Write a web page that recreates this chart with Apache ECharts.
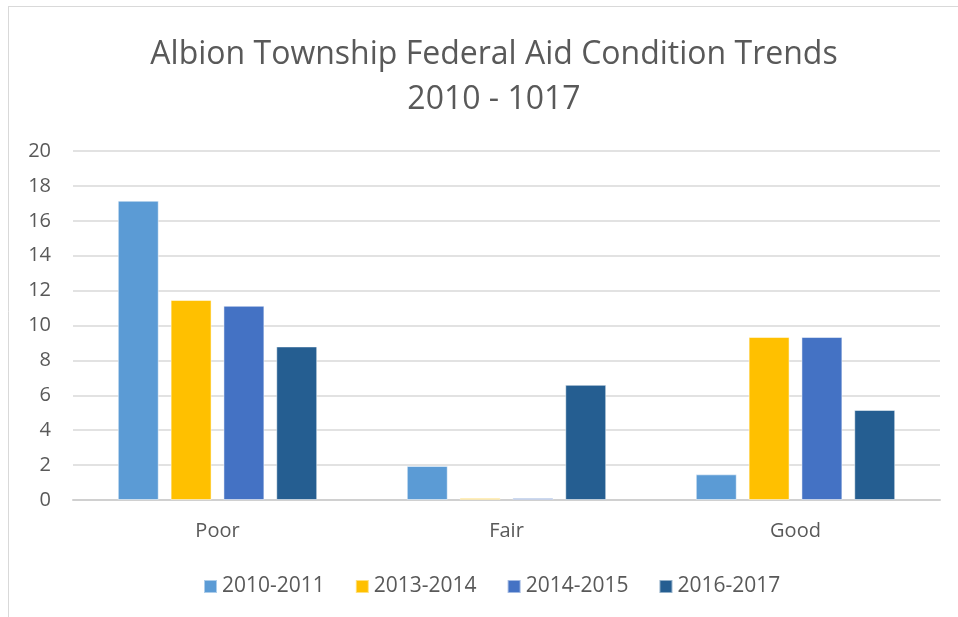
<!DOCTYPE html>
<html>
<head>
<meta charset="utf-8">
<script src="https://cdn.jsdelivr.net/npm/echarts@6/dist/echarts.min.js"></script>
<style>
  html, body { margin: 0; padding: 0; background: #fff; }
  #chart { width: 958px; height: 617px; }
</style>
</head>
<body>
<div id="chart"></div>
<script>
const categories = ["Poor", "Fair", "Good"];
const seriesNames = ["2010-2011", "2013-2014", "2014-2015", "2016-2017"];
const values2010 = [17.15, 1.95, 1.47];
const values2013 = [11.46, 0.11, 9.34];
const values2014 = [11.13, 0.11, 9.34];
const values2016 = [8.8, 6.6, 5.16];
const colors = ["#5B9BD5", "#FFC000", "#4472C4", "#255E91"];

const chart = echarts.init(document.getElementById("chart"));
const font = "Open Sans";
const allValues = [values2010, values2013, values2014, values2016];

let option = {
  animation: false,
  backgroundColor: "#fff",
  title: {
    text: "Albion Township Federal Aid Condition Trends\n2010 - 1017",
    left: 489,
    top: 27,
    textAlign: "center",
    textStyle: {
      color: "#595959",
      fontSize: 32,
      fontWeight: "normal",
      fontFamily: font,
      lineHeight: 45
    }
  },
  legend: {
    top: 571,
    left: 198,
    itemWidth: 13,
    itemHeight: 13,
    itemGap: 30,
    icon: "rect",
    textStyle: { color: "#595959", fontSize: 21, fontFamily: font },
    data: seriesNames
  },
  grid: { top: 151, bottom: 117, left: 73, right: 18 },
  xAxis: {
    type: "category",
    data: categories,
    axisTick: { show: false },
    axisLine: { lineStyle: { color: "#d0d0d0", width: 2 } },
    axisLabel: { color: "#595959", fontSize: 20, fontFamily: font, margin: 21 }
  },
  yAxis: {
    type: "value",
    min: 0,
    max: 20,
    interval: 2,
    axisLine: { show: false },
    axisTick: { show: false },
    splitLine: { lineStyle: { color: "#d9d9d9", width: 1.5 } },
    axisLabel: { color: "#595959", fontSize: 20, fontFamily: font, margin: 22 }
  },
  graphic: [
    { type: "line", shape: { x1: 8, y1: 6.5, x2: 958, y2: 6.5 }, style: { stroke: "#d9d9d9", lineWidth: 1 } },
    { type: "line", shape: { x1: 8.5, y1: 6, x2: 8.5, y2: 617 }, style: { stroke: "#d9d9d9", lineWidth: 1 } }
  ],
  series: seriesNames.map((name, i) => ({
    name: name,
    type: "bar",
    data: allValues[i],
    barGap: "29%",
    barCategoryGap: "31%",
    itemStyle: { color: colors[i], borderColor: "rgba(255,255,255,0.5)", borderWidth: 1 }
  }))
};

chart.setOption(option);
</script>
</body>
</html>
